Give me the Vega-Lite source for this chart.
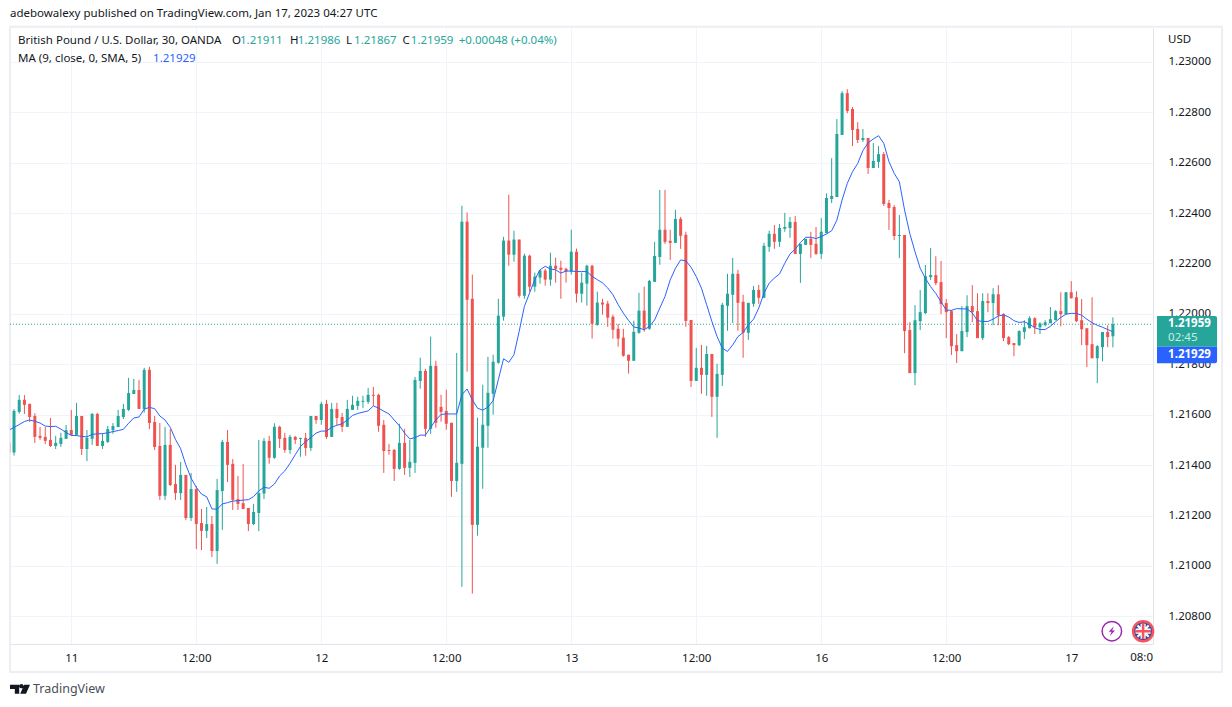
{
"$schema":"https://vega.github.io/schema/vega-lite/v6.json",
"width":1143,"height":616,"autosize":{"type":"none"},
"padding":{"left":10,"top":28,"right":79,"bottom":63},
"background":"#ffffff",
"view":{"stroke":null},
"config":{"font":"Noto Sans","text":{"font":"Noto Sans","fontSize":11.5,"color":"#131722","align":"left","baseline":"middle"}},
"datasets":{
"candles":[
{"i":-12,"o":1.21489,"h":1.21489,"l":1.2145,"c":1.2145},
{"i":-11,"o":1.2145,"h":1.21622,"l":1.21438,"c":1.21615},
{"i":-10,"o":1.21611,"h":1.21678,"l":1.21604,"c":1.21659},
{"i":-9,"o":1.21659,"h":1.21678,"l":1.21603,"c":1.21639},
{"i":-8,"o":1.21643,"h":1.21643,"l":1.21571,"c":1.21591},
{"i":-7,"o":1.21595,"h":1.21606,"l":1.21488,"c":1.21512},
{"i":-6,"o":1.21516,"h":1.21551,"l":1.215,"c":1.21508},
{"i":-5,"o":1.21512,"h":1.21551,"l":1.21484,"c":1.21496},
{"i":-4,"o":1.215,"h":1.21587,"l":1.21472,"c":1.21476},
{"i":-3,"o":1.21476,"h":1.21516,"l":1.21464,"c":1.21488},
{"i":-2,"o":1.21484,"h":1.21528,"l":1.21472,"c":1.21508},
{"i":-1,"o":1.21504,"h":1.21559,"l":1.21504,"c":1.21539},
{"i":0,"o":1.21539,"h":1.21619,"l":1.21516,"c":1.2152},
{"i":1,"o":1.2152,"h":1.21647,"l":1.21516,"c":1.21595},
{"i":2,"o":1.21595,"h":1.21595,"l":1.2144,"c":1.21464},
{"i":3,"o":1.21464,"h":1.21539,"l":1.21416,"c":1.21508},
{"i":4,"o":1.21504,"h":1.21607,"l":1.2148,"c":1.21603},
{"i":5,"o":1.21603,"h":1.21607,"l":1.21476,"c":1.21476},
{"i":6,"o":1.21476,"h":1.21524,"l":1.21464,"c":1.21496},
{"i":7,"o":1.21492,"h":1.21555,"l":1.21488,"c":1.21543},
{"i":8,"o":1.21539,"h":1.21567,"l":1.21524,"c":1.21555},
{"i":9,"o":1.21551,"h":1.21619,"l":1.21551,"c":1.21595},
{"i":10,"o":1.21591,"h":1.21643,"l":1.21583,"c":1.21623},
{"i":11,"o":1.21619,"h":1.21746,"l":1.21615,"c":1.21686},
{"i":12,"o":1.21682,"h":1.21742,"l":1.21682,"c":1.21698},
{"i":13,"o":1.21698,"h":1.21738,"l":1.21623,"c":1.21623},
{"i":14,"o":1.21623,"h":1.21786,"l":1.21608,"c":1.21778},
{"i":15,"o":1.21778,"h":1.2179,"l":1.21543,"c":1.21567},
{"i":16,"o":1.21571,"h":1.21595,"l":1.2146,"c":1.21472},
{"i":17,"o":1.21476,"h":1.21567,"l":1.21262,"c":1.21278},
{"i":18,"o":1.21278,"h":1.21551,"l":1.21262,"c":1.2148},
{"i":19,"o":1.2148,"h":1.21543,"l":1.21317,"c":1.21321},
{"i":20,"o":1.21325,"h":1.21401,"l":1.21262,"c":1.21289},
{"i":21,"o":1.21289,"h":1.21412,"l":1.21262,"c":1.21361},
{"i":22,"o":1.21361,"h":1.21361,"l":1.21182,"c":1.2119},
{"i":23,"o":1.2119,"h":1.21369,"l":1.21178,"c":1.21305},
{"i":24,"o":1.21305,"h":1.21317,"l":1.21067,"c":1.21166},
{"i":25,"o":1.2117,"h":1.21226,"l":1.21063,"c":1.21139},
{"i":26,"o":1.21139,"h":1.21234,"l":1.21111,"c":1.21166},
{"i":27,"o":1.21166,"h":1.21198,"l":1.21035,"c":1.21059},
{"i":28,"o":1.21059,"h":1.21345,"l":1.21008,"c":1.21301},
{"i":29,"o":1.21297,"h":1.215,"l":1.21143,"c":1.21492},
{"i":30,"o":1.21492,"h":1.21539,"l":1.21333,"c":1.21401},
{"i":31,"o":1.21405,"h":1.21424,"l":1.21222,"c":1.21262},
{"i":32,"o":1.21265,"h":1.21357,"l":1.21222,"c":1.21246},
{"i":33,"o":1.21249,"h":1.21404,"l":1.21226,"c":1.21226},
{"i":34,"o":1.2123,"h":1.2123,"l":1.21138,"c":1.21166},
{"i":35,"o":1.21166,"h":1.21246,"l":1.21162,"c":1.21214},
{"i":36,"o":1.2121,"h":1.215,"l":1.21138,"c":1.21289},
{"i":37,"o":1.21287,"h":1.21507,"l":1.21265,"c":1.21496},
{"i":38,"o":1.21496,"h":1.21516,"l":1.21405,"c":1.21429},
{"i":39,"o":1.21429,"h":1.21566,"l":1.21425,"c":1.21552},
{"i":40,"o":1.21552,"h":1.21556,"l":1.21468,"c":1.21504},
{"i":41,"o":1.21508,"h":1.21528,"l":1.21449,"c":1.2146},
{"i":42,"o":1.2146,"h":1.2152,"l":1.21445,"c":1.21512},
{"i":43,"o":1.21512,"h":1.21516,"l":1.21484,"c":1.215},
{"i":44,"o":1.21504,"h":1.21508,"l":1.21433,"c":1.21508},
{"i":45,"o":1.21508,"h":1.21528,"l":1.21437,"c":1.21468},
{"i":46,"o":1.21468,"h":1.21595,"l":1.21456,"c":1.21595},
{"i":47,"o":1.21595,"h":1.21595,"l":1.21564,"c":1.21579},
{"i":48,"o":1.21579,"h":1.21651,"l":1.2156,"c":1.21643},
{"i":49,"o":1.21643,"h":1.21659,"l":1.21504,"c":1.21512},
{"i":50,"o":1.21512,"h":1.21647,"l":1.21512,"c":1.21623},
{"i":51,"o":1.21623,"h":1.21647,"l":1.21558,"c":1.21587},
{"i":52,"o":1.21591,"h":1.21607,"l":1.21532,"c":1.21552},
{"i":53,"o":1.21552,"h":1.21659,"l":1.21552,"c":1.21623},
{"i":54,"o":1.21619,"h":1.21675,"l":1.21619,"c":1.21639},
{"i":55,"o":1.21635,"h":1.21671,"l":1.21619,"c":1.21655},
{"i":56,"o":1.21651,"h":1.21675,"l":1.21627,"c":1.21655},
{"i":57,"o":1.21651,"h":1.21706,"l":1.21643,"c":1.21679},
{"i":58,"o":1.21679,"h":1.2171,"l":1.21635,"c":1.21675},
{"i":59,"o":1.21679,"h":1.21683,"l":1.21532,"c":1.21556},
{"i":60,"o":1.2156,"h":1.21579,"l":1.21369,"c":1.21456},
{"i":61,"o":1.2146,"h":1.21484,"l":1.21441,"c":1.21456},
{"i":62,"o":1.2146,"h":1.21464,"l":1.21337,"c":1.21385},
{"i":63,"o":1.21385,"h":1.21564,"l":1.21381,"c":1.21488},
{"i":64,"o":1.21488,"h":1.21544,"l":1.21361,"c":1.21389},
{"i":65,"o":1.21389,"h":1.215,"l":1.21353,"c":1.21413},
{"i":66,"o":1.21409,"h":1.2175,"l":1.21369,"c":1.21738},
{"i":67,"o":1.21734,"h":1.21826,"l":1.21703,"c":1.21774},
{"i":68,"o":1.21774,"h":1.21782,"l":1.21512,"c":1.21544},
{"i":69,"o":1.21544,"h":1.2191,"l":1.21524,"c":1.21794},
{"i":70,"o":1.21794,"h":1.21814,"l":1.21548,"c":1.21568},
{"i":71,"o":1.21631,"h":1.21679,"l":1.21572,"c":1.21611},
{"i":72,"o":1.21615,"h":1.21699,"l":1.2154,"c":1.21564},
{"i":73,"o":1.21568,"h":1.21568,"l":1.21274,"c":1.21337},
{"i":74,"o":1.21337,"h":1.21845,"l":1.21294,"c":1.21409},
{"i":75,"o":1.21405,"h":1.22429,"l":1.20917,"c":1.22366},
{"i":76,"o":1.22366,"h":1.22402,"l":1.21771,"c":1.22056},
{"i":77,"o":1.2206,"h":1.22156,"l":1.2089,"c":1.21163},
{"i":78,"o":1.21163,"h":1.21588,"l":1.2112,"c":1.21473},
{"i":79,"o":1.21469,"h":1.21719,"l":1.21306,"c":1.2156},
{"i":80,"o":1.21556,"h":1.2183,"l":1.21469,"c":1.21687},
{"i":81,"o":1.21683,"h":1.21838,"l":1.216,"c":1.2181},
{"i":82,"o":1.21806,"h":1.2206,"l":1.21802,"c":1.21993},
{"i":83,"o":1.21989,"h":1.22306,"l":1.21973,"c":1.22291},
{"i":84,"o":1.22291,"h":1.22473,"l":1.22191,"c":1.22235},
{"i":85,"o":1.22235,"h":1.2233,"l":1.22207,"c":1.22295},
{"i":86,"o":1.22295,"h":1.22295,"l":1.22064,"c":1.22072},
{"i":87,"o":1.22072,"h":1.22239,"l":1.2206,"c":1.22231},
{"i":88,"o":1.22231,"h":1.22235,"l":1.22088,"c":1.22108},
{"i":89,"o":1.22108,"h":1.22164,"l":1.22088,"c":1.22148},
{"i":90,"o":1.22144,"h":1.22175,"l":1.2212,"c":1.22172},
{"i":91,"o":1.22172,"h":1.22179,"l":1.22112,"c":1.22136},
{"i":92,"o":1.22136,"h":1.22243,"l":1.22112,"c":1.22191},
{"i":93,"o":1.22191,"h":1.22223,"l":1.22124,"c":1.22179},
{"i":94,"o":1.22183,"h":1.22211,"l":1.2206,"c":1.22175},
{"i":95,"o":1.22179,"h":1.22183,"l":1.22124,"c":1.22168},
{"i":96,"o":1.22168,"h":1.22334,"l":1.22156,"c":1.22247},
{"i":97,"o":1.22247,"h":1.22259,"l":1.22045,"c":1.2208},
{"i":98,"o":1.2208,"h":1.22164,"l":1.22045,"c":1.22124},
{"i":99,"o":1.2212,"h":1.22195,"l":1.22033,"c":1.22191},
{"i":100,"o":1.22191,"h":1.22195,"l":1.21902,"c":1.21961},
{"i":101,"o":1.21957,"h":1.22088,"l":1.21953,"c":1.22045},
{"i":102,"o":1.22045,"h":1.2206,"l":1.21997,"c":1.22037},
{"i":103,"o":1.22041,"h":1.22052,"l":1.21949,"c":1.21985},
{"i":104,"o":1.21989,"h":1.21997,"l":1.21902,"c":1.21937},
{"i":105,"o":1.21941,"h":1.2196,"l":1.2187,"c":1.21902},
{"i":106,"o":1.21906,"h":1.21941,"l":1.2183,"c":1.21834},
{"i":107,"o":1.21838,"h":1.21838,"l":1.21763,"c":1.21814},
{"i":108,"o":1.21814,"h":1.21973,"l":1.21814,"c":1.21929},
{"i":109,"o":1.21925,"h":1.22084,"l":1.21921,"c":1.22013},
{"i":110,"o":1.22013,"h":1.22108,"l":1.21929,"c":1.21941},
{"i":111,"o":1.21941,"h":1.22135,"l":1.21937,"c":1.22131},
{"i":112,"o":1.22127,"h":1.22286,"l":1.22127,"c":1.2223},
{"i":113,"o":1.22226,"h":1.22492,"l":1.22195,"c":1.22334},
{"i":114,"o":1.22334,"h":1.22492,"l":1.22278,"c":1.22286},
{"i":115,"o":1.2229,"h":1.22334,"l":1.22214,"c":1.22282},
{"i":116,"o":1.22282,"h":1.22413,"l":1.22282,"c":1.22377},
{"i":117,"o":1.22377,"h":1.22385,"l":1.22258,"c":1.2231},
{"i":118,"o":1.22314,"h":1.22326,"l":1.21949,"c":1.21972},
{"i":119,"o":1.21976,"h":1.21976,"l":1.2171,"c":1.21734},
{"i":120,"o":1.21734,"h":1.21865,"l":1.21734,"c":1.21786},
{"i":121,"o":1.21786,"h":1.21877,"l":1.21683,"c":1.21758},
{"i":122,"o":1.21758,"h":1.21873,"l":1.21675,"c":1.21841},
{"i":123,"o":1.21841,"h":1.21841,"l":1.21591,"c":1.21671},
{"i":124,"o":1.21671,"h":1.21802,"l":1.21508,"c":1.21762},
{"i":125,"o":1.21758,"h":1.22044,"l":1.21714,"c":1.22036},
{"i":126,"o":1.22032,"h":1.22159,"l":1.21933,"c":1.2208},
{"i":127,"o":1.22076,"h":1.22222,"l":1.21964,"c":1.22159},
{"i":128,"o":1.22159,"h":1.22175,"l":1.21933,"c":1.22044},
{"i":129,"o":1.22048,"h":1.22076,"l":1.21826,"c":1.21925},
{"i":130,"o":1.21925,"h":1.22044,"l":1.21897,"c":1.22044},
{"i":131,"o":1.2204,"h":1.22111,"l":1.22028,"c":1.22095},
{"i":132,"o":1.22095,"h":1.22115,"l":1.2204,"c":1.22064},
{"i":133,"o":1.22064,"h":1.22282,"l":1.22064,"c":1.2227},
{"i":134,"o":1.22266,"h":1.2233,"l":1.22246,"c":1.22318},
{"i":135,"o":1.22318,"h":1.22353,"l":1.22258,"c":1.22286},
{"i":136,"o":1.22286,"h":1.22357,"l":1.22266,"c":1.22341},
{"i":137,"o":1.22338,"h":1.22401,"l":1.22326,"c":1.22345},
{"i":138,"o":1.22341,"h":1.22385,"l":1.22302,"c":1.22365},
{"i":139,"o":1.22365,"h":1.22389,"l":1.22238,"c":1.22238},
{"i":140,"o":1.22238,"h":1.22278,"l":1.22123,"c":1.22278},
{"i":141,"o":1.22274,"h":1.22298,"l":1.22274,"c":1.22298},
{"i":142,"o":1.22298,"h":1.22326,"l":1.22222,"c":1.22274},
{"i":143,"o":1.22278,"h":1.22345,"l":1.22234,"c":1.22238},
{"i":144,"o":1.22238,"h":1.22381,"l":1.22218,"c":1.22326},
{"i":145,"o":1.22321,"h":1.22478,"l":1.22319,"c":1.2246},
{"i":146,"o":1.22456,"h":1.22618,"l":1.2244,"c":1.22468},
{"i":147,"o":1.22464,"h":1.22773,"l":1.22464,"c":1.22714},
{"i":148,"o":1.2271,"h":1.22884,"l":1.2271,"c":1.22876},
{"i":149,"o":1.22876,"h":1.22892,"l":1.22796,"c":1.22805},
{"i":150,"o":1.22813,"h":1.22821,"l":1.22666,"c":1.2273},
{"i":151,"o":1.22734,"h":1.22761,"l":1.22678,"c":1.2269},
{"i":152,"o":1.2269,"h":1.22734,"l":1.22682,"c":1.22698},
{"i":153,"o":1.22698,"h":1.22698,"l":1.22555,"c":1.22579},
{"i":154,"o":1.22579,"h":1.22678,"l":1.22579,"c":1.22607},
{"i":155,"o":1.22603,"h":1.22666,"l":1.22579,"c":1.22634},
{"i":156,"o":1.22634,"h":1.22642,"l":1.22428,"c":1.22436},
{"i":157,"o":1.2244,"h":1.22452,"l":1.22333,"c":1.2242},
{"i":158,"o":1.22424,"h":1.22432,"l":1.22293,"c":1.22309},
{"i":159,"o":1.22309,"h":1.22392,"l":1.22222,"c":1.22313},
{"i":160,"o":1.22313,"h":1.22313,"l":1.21844,"c":1.21932},
{"i":161,"o":1.21936,"h":1.21967,"l":1.21765,"c":1.21765},
{"i":162,"o":1.21765,"h":1.22035,"l":1.21717,"c":1.21975},
{"i":163,"o":1.21971,"h":1.22095,"l":1.21936,"c":1.22007},
{"i":164,"o":1.22003,"h":1.22194,"l":1.21999,"c":1.2215},
{"i":165,"o":1.22146,"h":1.22261,"l":1.22134,"c":1.22154},
{"i":166,"o":1.22154,"h":1.22229,"l":1.22114,"c":1.22122},
{"i":167,"o":1.22126,"h":1.2221,"l":1.21999,"c":1.22039},
{"i":168,"o":1.22043,"h":1.22059,"l":1.21904,"c":1.22007},
{"i":169,"o":1.22011,"h":1.22015,"l":1.21837,"c":1.21872},
{"i":170,"o":1.21876,"h":1.2192,"l":1.21805,"c":1.21852},
{"i":171,"o":1.21852,"h":1.22031,"l":1.21852,"c":1.21932},
{"i":172,"o":1.21928,"h":1.22074,"l":1.21908,"c":1.22031},
{"i":173,"o":1.22031,"h":1.22114,"l":1.21967,"c":1.22007},
{"i":174,"o":1.22011,"h":1.22082,"l":1.21904,"c":1.21904},
{"i":175,"o":1.21904,"h":1.22082,"l":1.21896,"c":1.22051},
{"i":176,"o":1.22051,"h":1.22082,"l":1.22007,"c":1.22043},
{"i":177,"o":1.22043,"h":1.22102,"l":1.21955,"c":1.22078},
{"i":178,"o":1.22078,"h":1.22114,"l":1.21955,"c":1.21995},
{"i":179,"o":1.21999,"h":1.22003,"l":1.21892,"c":1.21904},
{"i":180,"o":1.21908,"h":1.21912,"l":1.21876,"c":1.2188},
{"i":181,"o":1.21884,"h":1.21884,"l":1.21832,"c":1.21876},
{"i":182,"o":1.21876,"h":1.21935,"l":1.21872,"c":1.21932},
{"i":183,"o":1.21928,"h":1.21975,"l":1.219,"c":1.21947},
{"i":184,"o":1.21943,"h":1.21991,"l":1.21943,"c":1.21983},
{"i":185,"o":1.21983,"h":1.21987,"l":1.2192,"c":1.21947},
{"i":186,"o":1.21947,"h":1.21967,"l":1.2192,"c":1.21962},
{"i":187,"o":1.21955,"h":1.21975,"l":1.21951,"c":1.21967},
{"i":188,"o":1.21963,"h":1.22027,"l":1.21963,"c":1.21979},
{"i":189,"o":1.21975,"h":1.22015,"l":1.21975,"c":1.22011},
{"i":190,"o":1.22011,"h":1.22086,"l":1.21951,"c":1.21999},
{"i":191,"o":1.21999,"h":1.22086,"l":1.21999,"c":1.22086},
{"i":192,"o":1.22086,"h":1.2213,"l":1.22062,"c":1.22062},
{"i":193,"o":1.22066,"h":1.2209,"l":1.21967,"c":1.21971},
{"i":194,"o":1.21975,"h":1.22059,"l":1.21876,"c":1.21939},
{"i":195,"o":1.21943,"h":1.21943,"l":1.21789,"c":1.21876},
{"i":196,"o":1.2188,"h":1.22066,"l":1.21824,"c":1.21824},
{"i":197,"o":1.21824,"h":1.21876,"l":1.21725,"c":1.21872},
{"i":198,"o":1.21868,"h":1.21928,"l":1.21812,"c":1.21928},
{"i":199,"o":1.21928,"h":1.21955,"l":1.21868,"c":1.21908},
{"i":200,"o":1.21911,"h":1.21986,"l":1.21867,"c":1.21959}
],
"ma":[
{"i":-12,"v":1.21539},{"i":-11,"v":1.21549},{"i":-10,"v":1.21561},{"i":-9,"v":1.21573},{"i":-8,"v":1.21579},{"i":-7,"v":1.21574},{"i":-6,"v":1.21567},{"i":-5,"v":1.21555},{"i":-4,"v":1.21553},{"i":-3,"v":1.21554},{"i":-2,"v":1.21543},{"i":-1,"v":1.21529},
{"i":0,"v":1.21518},{"i":1,"v":1.21517},{"i":2,"v":1.21514},{"i":3,"v":1.21512},{"i":4,"v":1.21522},{"i":5,"v":1.21524},{"i":6,"v":1.21525},{"i":7,"v":1.21528},{"i":8,"v":1.21533},{"i":9,"v":1.21537},{"i":10,"v":1.21542},{"i":11,"v":1.21566},{"i":12,"v":1.21587},{"i":13,"v":1.21591},{"i":14,"v":1.21622},{"i":15,"v":1.21629},{"i":16,"v":1.21624},{"i":17,"v":1.21595},{"i":18,"v":1.21579},{"i":19,"v":1.2155},
{"i":20,"v":1.21502},{"i":21,"v":1.21465},{"i":22,"v":1.21401},{"i":23,"v":1.21348},{"i":24,"v":1.21312},{"i":25,"v":1.21285},{"i":26,"v":1.21274},{"i":27,"v":1.21226},{"i":28,"v":1.21225},{"i":29,"v":1.21246},{"i":30,"v":1.21251},{"i":31,"v":1.21257},{"i":32,"v":1.21259},{"i":33,"v":1.21261},{"i":34,"v":1.21263},{"i":35,"v":1.21275},{"i":36,"v":1.21298},{"i":37,"v":1.21312},{"i":38,"v":1.21308},{"i":39,"v":1.21325},
{"i":40,"v":1.21357},{"i":41,"v":1.21377},{"i":42,"v":1.21407},{"i":43,"v":1.21441},{"i":44,"v":1.21474},{"i":45,"v":1.21493},{"i":46,"v":1.21509},{"i":47,"v":1.21527},{"i":48,"v":1.21535},{"i":49,"v":1.21535},{"i":50,"v":1.2155},{"i":51,"v":1.21558},{"i":52,"v":1.21564},{"i":53,"v":1.21579},{"i":54,"v":1.21597},{"i":55,"v":1.21605},{"i":56,"v":1.2161},{"i":57,"v":1.21615},{"i":58,"v":1.21635},{"i":59,"v":1.21626},
{"i":60,"v":1.21614},{"i":61,"v":1.21603},{"i":62,"v":1.21579},{"i":63,"v":1.21556},{"i":64,"v":1.21527},{"i":65,"v":1.21504},{"i":66,"v":1.21509},{"i":67,"v":1.21519},{"i":68,"v":1.21519},{"i":69,"v":1.2155},{"i":70,"v":1.21579},{"i":71,"v":1.21601},{"i":72,"v":1.21603},{"i":73,"v":1.21603},{"i":74,"v":1.21603},{"i":75,"v":1.21679},{"i":76,"v":1.21702},{"i":77,"v":1.21659},{"i":78,"v":1.21626},{"i":79,"v":1.21618},
{"i":80,"v":1.2163},{"i":81,"v":1.21656},{"i":82,"v":1.21739},{"i":83,"v":1.21822},{"i":84,"v":1.21808},{"i":85,"v":1.21838},{"i":86,"v":1.21931},{"i":87,"v":1.2203},{"i":88,"v":1.22083},{"i":89,"v":1.22136},{"i":90,"v":1.22175},{"i":91,"v":1.22189},{"i":92,"v":1.22178},{"i":93,"v":1.22175},{"i":94,"v":1.22162},{"i":95,"v":1.2217},{"i":96,"v":1.2217},{"i":97,"v":1.22168},{"i":98,"v":1.22168},{"i":99,"v":1.22168},
{"i":100,"v":1.22149},{"i":101,"v":1.22136},{"i":102,"v":1.22123},{"i":103,"v":1.22103},{"i":104,"v":1.22076},{"i":105,"v":1.22037},{"i":106,"v":1.22003},{"i":107,"v":1.21974},{"i":108,"v":1.21948},{"i":109,"v":1.21944},{"i":110,"v":1.21937},{"i":111,"v":1.2195},{"i":112,"v":1.21976},{"i":113,"v":1.22023},{"i":114,"v":1.22069},{"i":115,"v":1.22135},{"i":116,"v":1.22181},{"i":117,"v":1.22214},{"i":118,"v":1.22211},{"i":119,"v":1.22185},
{"i":120,"v":1.22148},{"i":121,"v":1.22102},{"i":122,"v":1.22036},{"i":123,"v":1.2197},{"i":124,"v":1.2191},{"i":125,"v":1.21864},{"i":126,"v":1.21851},{"i":127,"v":1.21877},{"i":128,"v":1.2191},{"i":129,"v":1.21926},{"i":130,"v":1.21956},{"i":131,"v":1.21979},{"i":132,"v":1.22023},{"i":133,"v":1.22082},{"i":134,"v":1.22122},{"i":135,"v":1.22142},{"i":136,"v":1.22159},{"i":137,"v":1.22201},{"i":138,"v":1.22238},{"i":139,"v":1.22257},
{"i":140,"v":1.22283},{"i":141,"v":1.22304},{"i":142,"v":1.22304},{"i":143,"v":1.22299},{"i":144,"v":1.22307},{"i":145,"v":1.22317},{"i":146,"v":1.2233},{"i":147,"v":1.22372},{"i":148,"v":1.22452},{"i":149,"v":1.22518},{"i":150,"v":1.22564},{"i":151,"v":1.22597},{"i":152,"v":1.22648},{"i":153,"v":1.22679},{"i":154,"v":1.22694},{"i":155,"v":1.22707},{"i":156,"v":1.22677},{"i":157,"v":1.22604},{"i":158,"v":1.22558},{"i":159,"v":1.22524},
{"i":160,"v":1.22412},{"i":161,"v":1.22319},{"i":162,"v":1.22247},{"i":163,"v":1.22181},{"i":164,"v":1.22141},{"i":165,"v":1.22108},{"i":166,"v":1.22081},{"i":167,"v":1.22048},{"i":168,"v":1.22015},{"i":169,"v":1.22014},{"i":170,"v":1.22021},{"i":171,"v":1.2202},{"i":172,"v":1.2202},{"i":173,"v":1.22004},{"i":174,"v":1.21973},{"i":175,"v":1.2197},{"i":176,"v":1.2197},{"i":177,"v":1.21979},{"i":178,"v":1.21992},{"i":179,"v":1.21996},
{"i":180,"v":1.21988},{"i":181,"v":1.21973},{"i":182,"v":1.21966},{"i":183,"v":1.21969},{"i":184,"v":1.21959},{"i":185,"v":1.21945},{"i":186,"v":1.21938},{"i":187,"v":1.21938},{"i":188,"v":1.21951},{"i":189,"v":1.21969},{"i":190,"v":1.21986},{"i":191,"v":1.21999},{"i":192,"v":1.22002},{"i":193,"v":1.22002},{"i":194,"v":1.21995},{"i":195,"v":1.21979},{"i":196,"v":1.21965},{"i":197,"v":1.21955},{"i":198,"v":1.21947},{"i":199,"v":1.21938},{"i":200,"v":1.21929}
]
},
"layer":[
{
"data":{"values":[{"x":-11.77,"x2":220.95,"y":1.23139,"y2":1.20579}]},
"mark":{"type":"rect","filled":false,"stroke":"#eceef3","strokeWidth":2},
"encoding":{
"x":{"field":"x","type":"quantitative","title":null,"scale":{"domain":[-11.77,207.7],"nice":false,"zero":false,"padding":0},
"axis":{"values":[0,24,48,72,96,120,144,168,192],"labelExpr":"{'0':'11','24':'12:00','48':'12','72':'12:00','96':'13','120':'12:00','144':'16','168':'12:00','192':'17'}[datum.value]","grid":true,"gridColor":"#f0f3fa","domainColor":"#e0e3eb","ticks":false,"labelPadding":8,"labelFont":"Noto Sans","labelFontSize":11.5,"labelColor":"#131722","labelFlush":false,"labelOverlap":false}},
"x2":{"field":"x2"},
"y":{"field":"y","type":"quantitative","title":null,"scale":{"domain":[1.206901,1.231345],"nice":false,"zero":false},
"axis":{"orient":"right","values":[1.208,1.21,1.212,1.214,1.216,1.218,1.22,1.222,1.224,1.226,1.228,1.23],"format":".5f","grid":true,"gridColor":"#f0f3fa","domainColor":"#e0e3eb","ticks":false,"labelPadding":15,"labelFont":"Noto Sans","labelFontSize":11.5,"labelColor":"#131722","labelOverlap":false}},
"y2":{"field":"y2"}
}
},
{
"data":{"values":[{"x":-11.77,"x2":207.7,"y":1.21959}]},
"mark":{"type":"rule","color":"#26a69a","strokeWidth":1,"strokeDash":[1,2]},
"encoding":{"x":{"field":"x","type":"quantitative","title":null},"x2":{"field":"x2"},"y":{"field":"y","type":"quantitative","title":null}}
},
{
"data":{"name":"candles"},
"mark":{"type":"rule","strokeWidth":1,"clip":true},
"encoding":{
"x":{"field":"i","type":"quantitative","title":null},
"y":{"field":"h","type":"quantitative","title":null},
"y2":{"field":"l"},
"color":{"condition":{"test":"datum.c>=datum.o","value":"#26a69a"},"value":"#ef5350"}
}
},
{
"data":{"name":"candles"},
"mark":{"type":"bar","size":3,"clip":true},
"encoding":{
"x":{"field":"i","type":"quantitative","title":null},
"y":{"field":"o","type":"quantitative","title":null},
"y2":{"field":"c"},
"color":{"condition":{"test":"datum.c>=datum.o","value":"#26a69a"},"value":"#ef5350"}
}
},
{
"data":{"name":"ma"},
"mark":{"type":"line","stroke":"#2962ff","strokeWidth":1,"clip":true},
"encoding":{
"x":{"field":"i","type":"quantitative","title":null},
"y":{"field":"v","type":"quantitative","title":null}
}
},
{
"data":{"values":[{"x":208.47,"x2":220,"y":1.21992,"y2":1.2187}]},
"mark":{"type":"rect","fill":"#26a69a","cornerRadiusTopRight":2},
"encoding":{"x":{"field":"x","type":"quantitative","title":null},"x2":{"field":"x2"},"y":{"field":"y","type":"quantitative","title":null},"y2":{"field":"y2"}}
},
{
"data":{"values":[{"x":208.47,"x2":220,"y":1.2187,"y2":1.21804}]},
"mark":{"type":"rect","fill":"#2962ff","cornerRadiusBottomRight":2},
"encoding":{"x":{"field":"x","type":"quantitative","title":null},"x2":{"field":"x2"},"y":{"field":"y","type":"quantitative","title":null},"y2":{"field":"y2"}}
},
{
"data":{"values":[{"x":210.6,"y":1.2196,"t":"1.21959"},{"x":210.6,"y":1.21837,"t":"1.21929"}]},
"mark":{"type":"text","color":"#ffffff","fontWeight":"bold"},
"encoding":{"x":{"field":"x","type":"quantitative","title":null},"y":{"field":"y","type":"quantitative","title":null},"text":{"field":"t"}}
},
{
"data":{"values":[{"x":210.6,"y":1.21905,"t":"02:45"}]},
"mark":{"type":"text","color":"#c9ebe7"},
"encoding":{"x":{"field":"x","type":"quantitative","title":null},"y":{"field":"y","type":"quantitative","title":null},"text":{"field":"t"}}
},
{
"data":{"values":[
{"x":-11.77,"y":1.2319,"t":"adebowalexy published on TradingView.com, Jan 17, 2023 04:27 UTC"},
{"x":-10.23,"y":1.23083,"t":"British Pound / U.S. Dollar, 30, OANDA"},
{"x":30.85,"y":1.23083,"t":"O"},
{"x":42,"y":1.23083,"t":"H"},
{"x":52.75,"y":1.23083,"t":"L"},
{"x":63.6,"y":1.23083,"t":"C"},
{"x":-10.23,"y":1.23012,"t":"MA (9, close, 0, SMA, 5)"},
{"x":210.6,"y":1.23088,"t":"USD"}
]},
"mark":{"type":"text"},
"encoding":{"x":{"field":"x","type":"quantitative","title":null},"y":{"field":"y","type":"quantitative","title":null},"text":{"field":"t"}}
},
{
"data":{"values":[
{"x":32.4,"y":1.23083,"t":"1.21911"},
{"x":43.5,"y":1.23083,"t":"1.21986"},
{"x":54.3,"y":1.23083,"t":"1.21867"},
{"x":65.2,"y":1.23083,"t":"1.21959"},
{"x":74.4,"y":1.23083,"t":"+0.00048 (+0.04%)"}
]},
"mark":{"type":"text","color":"#26a69a"},
"encoding":{"x":{"field":"x","type":"quantitative","title":null},"y":{"field":"y","type":"quantitative","title":null},"text":{"field":"t"}}
},
{
"data":{"values":[{"x":15.7,"y":1.23012,"t":"1.21929"}]},
"mark":{"type":"text","color":"#2962ff"},
"encoding":{"x":{"field":"x","type":"quantitative","title":null},"y":{"field":"y","type":"quantitative","title":null},"text":{"field":"t"}}
},
{
"data":{"values":[{"x":207.7,"y":1.20634,"t":"08:0"}]},
"mark":{"type":"text","align":"right"},
"encoding":{"x":{"field":"x","type":"quantitative","title":null},"y":{"field":"y","type":"quantitative","title":null},"text":{"field":"t"}}
},
{
"data":{"values":[{"x":-7.35,"y":1.20511,"t":"TradingView"}]},
"mark":{"type":"text","fontSize":12.5,"color":"#4a4e5a"},
"encoding":{"x":{"field":"x","type":"quantitative","title":null},"y":{"field":"y","type":"quantitative","title":null},"text":{"field":"t"}}
},
{
"data":{"values":[{"x":-9.85,"y":1.20511}]},
"mark":{"type":"point","filled":true,"opacity":1,"fill":"#131722","stroke":null,"size":400,"shape":"M-1 -0.45H-0.08V0.45H-0.52V-0.02H-1ZM0.42 -0.45H1L0.6 0.45H0.02ZM-0.02 -0.45A0.2 0.2 0 1 1 0.3 -0.15A0.2 0.2 0 1 1 -0.02 -0.45Z"},
"encoding":{"x":{"field":"x","type":"quantitative","title":null},"y":{"field":"y","type":"quantitative","title":null}}
},
{
"data":{"values":[{"x":199.8,"y":1.20741}]},
"mark":{"type":"point","filled":false,"opacity":1,"fill":"#ffffff","stroke":"#9c27b0","strokeWidth":1.5,"size":380,"shape":"circle"},
"encoding":{"x":{"field":"x","type":"quantitative","title":null},"y":{"field":"y","type":"quantitative","title":null}}
},
{
"data":{"values":[{"x":199.8,"y":1.20741}]},
"mark":{"type":"point","filled":true,"opacity":1,"fill":"#9c27b0","stroke":null,"size":130,"shape":"M0.35 -0.85L-0.55 0.1H-0.05L-0.35 0.85L0.55 -0.1H0.05Z"},
"encoding":{"x":{"field":"x","type":"quantitative","title":null},"y":{"field":"y","type":"quantitative","title":null}}
},
{
"data":{"values":[{"x":205.8,"y":1.20741}]},
"mark":{"type":"point","filled":true,"opacity":1,"fill":"#1e4fa3","stroke":"#f7525f","strokeWidth":2.5,"size":400,"shape":"circle"},
"encoding":{"x":{"field":"x","type":"quantitative","title":null},"y":{"field":"y","type":"quantitative","title":null}}
},
{
"data":{"values":[{"x":205.8,"y":1.20741}]},
"mark":{"type":"point","filled":true,"opacity":1,"fill":"#ffffff","stroke":null,"size":256,"shape":"M-0.32 -0.94H0.32V-0.32H0.94V0.32H0.32V0.94H-0.32V0.32H-0.94V-0.32H-0.32ZM-0.8 -0.6L-0.6 -0.8L0.8 0.6L0.6 0.8ZM0.6 -0.8L0.8 -0.6L-0.6 0.8L-0.8 0.6Z"},
"encoding":{"x":{"field":"x","type":"quantitative","title":null},"y":{"field":"y","type":"quantitative","title":null}}
},
{
"data":{"values":[{"x":205.8,"y":1.20741}]},
"mark":{"type":"point","filled":true,"opacity":1,"fill":"#f7525f","stroke":null,"size":256,"shape":"M-0.16 -0.98H0.16V-0.16H0.98V0.16H0.16V0.98H-0.16V0.16H-0.98V-0.16H-0.16Z"},
"encoding":{"x":{"field":"x","type":"quantitative","title":null},"y":{"field":"y","type":"quantitative","title":null}}
}
]
}
